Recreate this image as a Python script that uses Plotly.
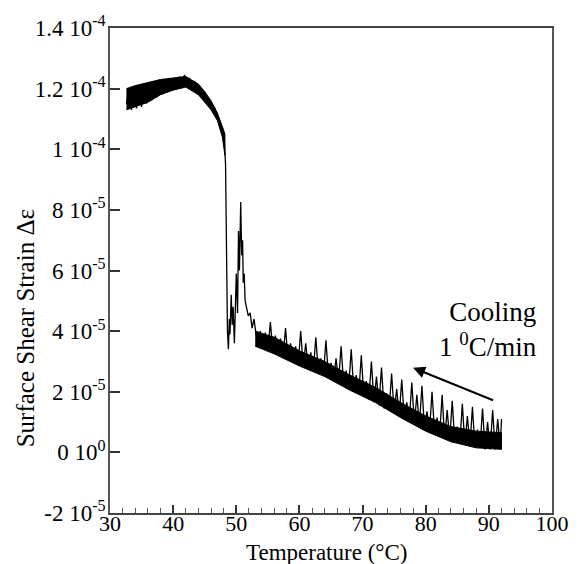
import plotly.graph_objects as go

# Temperature (°C) and surface shear strain (units of 1e-5)
temp_a = [32.6, 33.0, 33.4, 33.8, 34.2, 34.6, 35.0, 35.4, 35.8, 36.2, 36.6, 37.0, 37.4, 37.8,
          38.2, 38.6, 39.0, 39.4, 39.8, 40.2, 40.6, 41.0, 41.4, 41.8, 42.2, 42.6, 43.0, 43.4,
          43.8, 44.2, 44.6, 45.0, 45.4, 45.8, 46.2, 46.6, 47.0, 47.4, 47.8, 48.1]
strain_a = [11.5, 12.0, 11.3, 12.05, 11.35, 12.1, 11.4, 12.15, 11.5, 12.2, 11.6, 12.25, 11.7, 12.3,
            11.8, 12.3, 11.9, 12.35, 12.0, 12.35, 12.05, 12.4, 12.1, 12.45, 12.05, 12.35, 12.0, 12.25,
            11.85, 12.1, 11.7, 11.9, 11.5, 11.6, 11.3, 11.35, 11.05, 10.9, 10.6, 10.3]

temp_b = [48.3, 48.4, 48.5, 48.6, 48.75, 48.9, 49.0, 49.2, 49.35, 49.5, 49.7, 49.85, 50.0, 50.2,
          50.35, 50.5, 50.7, 50.85, 51.0, 51.1, 51.25, 51.4, 51.6, 51.9, 52.2, 52.5, 52.8, 53.1]
strain_b = [9.5, 7.5, 5.5, 4.0, 3.4, 4.4, 3.9, 5.2, 4.2, 4.8, 3.6, 4.9, 5.9, 4.6,
            7.3, 6.0, 8.26, 6.5, 7.0, 5.6, 5.9, 5.0, 4.8, 4.5, 4.6, 4.1, 4.4, 3.9]

temp_c = [53.4, 53.8, 54.2, 54.6, 55.0, 55.4, 55.8, 56.2, 56.6, 57.0, 57.4, 57.8, 58.2, 58.6,
          59.0, 59.4, 59.8, 60.2, 60.6, 61.0, 61.4, 61.8, 62.2, 62.6, 63.0, 63.4, 63.8, 64.2,
          64.6, 65.0, 65.4, 65.8, 66.2, 66.6, 67.0, 67.4, 67.8, 68.2, 68.6, 69.0, 69.4, 69.8,
          70.2, 70.6, 71.0, 71.4, 71.8, 72.2, 72.6, 73.0, 73.4, 73.8, 74.2, 74.6, 75.0, 75.4,
          75.8, 76.2, 76.6, 77.0, 77.4, 77.8, 78.2, 78.6, 79.0, 79.4, 79.8, 80.2, 80.6, 81.0,
          81.4, 81.8, 82.2, 82.6, 83.0, 83.4, 83.8, 84.2, 84.6, 85.0, 85.4, 85.8, 86.2, 86.6,
          87.0, 87.4, 87.8, 88.2, 88.6, 89.0, 89.4, 89.8, 90.2, 90.6, 91.0, 91.4, 91.8, 92.0]
strain_c = [3.5, 4.0, 3.45, 3.95, 3.35, 4.3, 3.3, 3.85, 3.25, 3.75, 3.15, 4.1, 3.05, 3.6,
            3.0, 3.5, 2.9, 4.0, 2.85, 3.6, 2.75, 3.3, 2.7, 3.8, 2.6, 3.1, 2.55, 3.7,
            2.5, 2.95, 2.4, 3.1, 2.35, 3.5, 2.25, 2.7, 2.15, 3.4, 2.05, 2.55, 1.95, 3.2,
            1.85, 2.35, 1.75, 3.0, 1.65, 2.5, 1.55, 2.8, 1.45, 1.95, 1.4, 2.6, 1.3, 2.1,
            1.2, 2.4, 1.15, 1.65, 1.05, 2.3, 0.95, 1.9, 0.9, 2.2, 0.8, 1.35, 0.7, 2.0,
            0.65, 1.15, 0.55, 1.9, 0.45, 1.4, 0.4, 1.7, 0.35, 0.85, 0.3, 1.6, 0.25, 1.2,
            0.2, 1.5, 0.15, 0.75, 0.15, 1.45, 0.1, 1.0, 0.1, 1.4, 0.1, 1.1, 0.15, 1.1]

# Dense noise band (lower / upper edges of the solid black ribbon)
band1_temp = [32.6, 34.0, 36.0, 38.0, 40.0, 42.0, 44.0, 45.0, 46.0, 47.0, 47.8, 48.2]
band1_low = [11.3, 11.4, 11.55, 11.8, 11.95, 12.05, 11.8, 11.55, 11.3, 10.95, 10.4, 9.8]
band1_high = [12.0, 12.1, 12.2, 12.3, 12.35, 12.4, 12.15, 11.9, 11.6, 11.2, 10.75, 10.5]
band2_temp = [53.0, 56.0, 60.0, 64.0, 68.0, 72.0, 76.0, 80.0, 84.0, 88.0, 92.0]
band2_low = [3.5, 3.25, 2.85, 2.5, 2.05, 1.65, 1.15, 0.7, 0.35, 0.15, 0.1]
band2_high = [4.0, 3.8, 3.35, 3.0, 2.55, 2.15, 1.65, 1.2, 0.85, 0.7, 0.65]

y_tickvals = [-2, 0, 2, 4, 6, 8, 10, 12, 14]
y_ticktext = ["-2 10<sup>-5</sup>", "0 10<sup>0</sup>", "2 10<sup>-5</sup>", "4 10<sup>-5</sup>",
              "6 10<sup>-5</sup>", "8 10<sup>-5</sup>", "1 10<sup>-4</sup>", "1.2 10<sup>-4</sup>",
              "1.4 10<sup>-4</sup>"]
x_tickvals = [30, 40, 50, 60, 70, 80, 90, 100]

temps = temp_a + temp_b + temp_c
strains = strain_a + strain_b + strain_c

FONT = "Liberation Serif"

fig = go.Figure()
for bt, bl, bh in [(band1_temp, band1_low, band1_high), (band2_temp, band2_low, band2_high)]:
    fig.add_trace(go.Scatter(x=bt + bt[::-1], y=bl + bh[::-1], mode="lines", fill="toself",
                             fillcolor="black", line=dict(color="black", width=1),
                             hoverinfo="skip", showlegend=False))
fig.add_trace(go.Scatter(x=temps, y=strains, mode="lines",
                         line=dict(color="black", width=1.3), showlegend=False))

fig.update_layout(
    width=581, height=564,
    margin=dict(l=110, r=23, t=25, b=51),
    paper_bgcolor="white", plot_bgcolor="white",
    font=dict(family=FONT, color="black", size=22),
)
fig.update_xaxes(range=[30, 100], tickvals=x_tickvals, ticks="inside", ticklen=8,
                 tickcolor="#333", tickwidth=1.5, ticklabelstandoff=-10,
                 minor=dict(dtick=2, ticks="inside", ticklen=5, tickcolor="#555", tickwidth=1),
                 showline=True, linecolor="#444", linewidth=1.5, mirror=True,
                 showgrid=False, zeroline=False, tickfont=dict(size=22, family=FONT))
fig.update_yaxes(range=[-2, 14], tickvals=y_tickvals, ticktext=y_ticktext, ticks="inside",
                 ticklen=10, tickcolor="#333", tickwidth=1.5, ticklabelstandoff=-2,
                 showline=True, linecolor="#555", linewidth=1.5, mirror=True,
                 showgrid=False, zeroline=False, tickfont=dict(size=23, family=FONT))

fig.add_annotation(text="Surface Shear Strain Δε", xref="paper", yref="paper",
                   x=-0.192, y=0.381, textangle=-90, showarrow=False,
                   font=dict(size=25, family=FONT), xanchor="center", yanchor="middle")
fig.add_annotation(text="Temperature (°C)", xref="paper", yref="paper",
                   x=0.49, y=-0.081, showarrow=False,
                   font=dict(size=23, family=FONT), xanchor="center", yanchor="middle")
fig.add_annotation(text="Cooling<br>1 <sup>0</sup>C/min", x=98.0, y=4.07, xref="x", yref="y",
                   showarrow=False, align="right", xanchor="right", yanchor="middle",
                   font=dict(size=27, family=FONT))
fig.add_annotation(x=78.0, y=2.79, ax=90.9, ay=1.70, xref="x", yref="y", axref="x", ayref="y",
                   text="", showarrow=True, arrowhead=2, arrowsize=1.2, arrowwidth=2,
                   arrowcolor="black")

fig.write_html("out.html")
